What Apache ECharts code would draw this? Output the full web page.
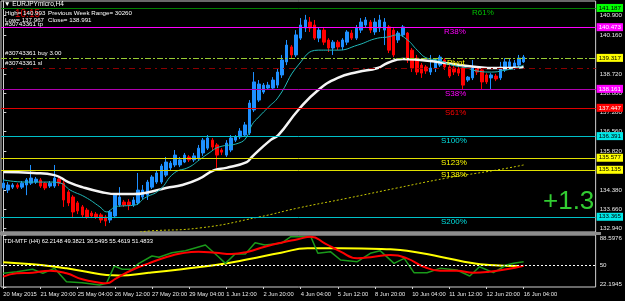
<!DOCTYPE html>
<html>
<head>
<meta charset="utf-8">
<script src="https://cdn.jsdelivr.net/npm/echarts@6/dist/echarts.min.js"></script>
<style>
  html, body { margin: 0; padding: 0; background: #000; }
  #main { width: 625px; height: 301px; }
</style>
</head>
<body>
<div id="main"></div>
<script>
// NOTE - Data (EURJPYmicro H4)

const tickLabels = ['20 May 2015', '21 May 20:00', '25 May 04:00', '26 May 12:00', '27 May 20:00',
  '29 May 04:00', '1 Jun 12:00', '2 Jun 20:00', '4 Jun 04:00', '5 Jun 12:00', '8 Jun 20:00',
  '10 Jun 04:00', '11 Jun 12:00', '12 Jun 20:00', '16 Jun 04:00'];

// [open, close, low, high]
const candles = [
  [134.45,134.63,134.37,134.75],[134.37,134.56,134.26,134.67],[134.48,134.56,134.41,134.63],[134.56,134.48,134.41,134.63],
  [134.48,134.63,134.41,134.71],[134.56,134.75,134.18,134.82],[134.63,134.82,134.56,135.31],[134.67,134.78,134.60,134.86],
  [134.75,134.52,134.45,134.82],[134.63,134.45,134.37,134.67],[134.52,134.63,134.45,134.71],[134.52,134.82,134.45,135.31],
  [134.78,134.63,134.52,134.86],[134.63,134.00,133.74,134.71],[134.30,133.89,133.77,134.37],[134.11,133.55,133.32,134.18],
  [133.89,133.59,133.47,133.96],[133.74,133.44,133.36,133.81],[133.62,133.36,133.29,133.70],[133.51,133.40,133.32,133.59],
  [133.47,133.36,133.29,133.55],[133.44,133.25,133.14,133.51],[133.36,133.21,133.02,133.44],[133.25,133.55,133.14,133.62],
  [133.40,134.18,133.32,134.26],[133.81,134.11,133.74,134.48],[133.92,133.81,133.74,134.00],[133.92,133.81,133.62,134.03],
  [133.81,134.00,133.74,134.11],[133.89,134.37,133.81,135.01],[134.11,134.37,134.03,134.56],[134.18,134.67,134.00,134.75],
  [134.48,134.86,134.41,134.93],[134.67,135.01,134.60,135.12],[134.67,135.27,134.60,135.35],[134.93,135.42,134.86,135.61],
  [135.20,135.38,135.12,135.46],[135.31,135.68,135.23,135.87],[135.31,135.50,135.23,135.61],[135.42,135.68,135.38,135.76],
  [135.61,135.50,135.42,135.68],[135.50,135.65,135.42,135.76],[135.57,135.94,135.50,136.06],[135.76,136.24,135.65,136.32],
  [135.94,136.32,135.87,136.43],[136.24,135.98,135.87,136.32],[136.06,135.68,135.20,136.13],[135.87,135.79,135.68,135.94],
  [135.68,136.13,135.61,136.24],[135.87,136.32,135.79,136.43],[136.24,136.36,136.17,136.43],[136.36,136.58,136.28,136.69],
  [136.43,136.81,136.36,136.92],[136.51,137.63,136.43,137.74],[137.37,138.42,137.29,138.79],[137.74,138.34,137.67,138.49],
  [138.04,138.30,137.97,138.38],[138.19,138.30,138.12,138.42],[138.19,138.49,138.12,138.60],[138.30,138.79,138.19,138.94],
  [138.68,139.24,138.57,139.43],[139.17,139.80,139.05,139.99],[139.73,139.43,139.31,139.80],[139.43,140.18,139.35,140.36],
  [140.06,140.55,139.99,140.81],[140.44,140.74,140.29,140.93],[140.66,140.44,140.29,140.85],[140.55,140.06,139.99,140.74],
  [140.06,140.36,139.91,140.44],[140.36,139.91,139.80,140.44],[139.99,139.69,139.54,140.06],[139.69,139.91,139.43,139.99],
  [139.91,139.73,139.61,139.99],[139.73,139.99,139.61,140.06],[139.91,140.29,139.80,140.36],[140.25,140.06,139.99,140.36],
  [140.06,140.44,139.99,140.55],[140.36,140.66,140.25,140.81],[140.55,140.74,140.44,140.85],[140.66,140.36,140.25,140.74],
  [140.29,140.66,140.18,140.81],[140.44,140.74,140.29,140.93],[140.36,140.66,139.80,140.81],[140.48,139.61,139.50,140.55],
  [140.36,139.43,139.35,140.44],[139.99,140.25,139.88,140.33],[140.18,140.48,140.10,140.55],[140.25,139.24,139.13,140.29],
  [139.61,138.94,138.79,139.69],[139.31,138.79,138.68,139.43],[139.05,138.75,138.57,139.13],[138.98,138.83,138.72,139.05],
  [138.79,138.94,138.68,139.43],[138.94,139.24,138.79,139.31],[139.05,139.35,138.98,139.43],[139.24,138.98,138.87,139.31],
  [138.98,138.64,138.57,139.09],[138.94,138.79,138.68,139.02],[138.90,138.75,138.64,139.02],[138.94,138.30,138.12,139.02],
  [138.49,138.60,138.42,138.64],[138.57,138.94,138.49,139.24],[138.94,138.79,138.68,138.98],[138.87,138.42,138.12,138.94],
  [138.68,138.42,138.34,138.75],[138.57,138.68,138.12,138.75],[138.64,138.53,138.45,138.72],[138.57,138.98,138.49,139.17],
  [138.87,139.17,138.79,139.31],[138.98,139.17,138.90,139.31],[138.98,139.13,138.87,139.24],[139.05,139.31,138.98,139.43],
  [139.17,139.35,139.13,139.43]
];

// [bar index, price] read along each moving average
const fastMA = [[0,134.75],[4.8,134.67],[10.2,134.67],[12.3,134.63],[14.4,134.37],[17.6,134.11],[20.8,133.74],
  [22.3,133.55],[24,133.74],[25.1,133.77],[28.3,133.81],[30.4,134.07],[33.6,134.37],[36.8,135.01],[40,135.23],
  [42.2,135.50],[44.3,135.76],[46.4,135.98],[50.7,136.13],[52.4,136.36],[53.5,136.81],[55,137.11],[57.1,137.48],
  [59.2,137.85],[63.5,139.05],[67.8,139.61],[72,139.61],[76.3,139.80],[80.6,140.06],[82.7,140.10],[84.8,140.18],
  [87,139.99],[89.1,139.61],[91.2,139.31],[93.4,139.24],[96.6,139.05],[99.8,138.94],[101.9,138.83],[105.1,138.79],
  [108.3,138.87],[110.4,138.94],[112,139.05]];
const slowMA = [[0,135.05],[6.5,135.01],[11,134.93],[14,134.67],[17,134.48],[21,134.30],[24.5,134.22],[28,134.22],
  [31.5,134.30],[35,134.45],[38.5,134.56],[42,134.78],[45.4,135.12],[48,135.20],[52.4,135.42],[53.5,135.61],
  [57.5,136.24],[59.2,136.43],[63.5,137.37],[67.8,138.12],[72,138.57],[76.3,138.79],[80.6,138.94],[82.7,139.13],
  [86,139.28],[89.7,139.24],[93.4,139.17],[98.3,139.05],[101.9,138.98],[105.5,138.94],[109,138.94],[112,138.98]];
const longMA = [[29.4,132.80],[31.5,132.84],[42.2,132.95],[55,133.36],[63.5,133.70],[74.2,134.07],[84.8,134.45],
  [95.5,134.82],[106.2,135.12],[112,135.31]];

// TDI-MTF lines
const rsiLine = [[0,39.7],[2.9,41.7],[6.3,44.8],[8.5,39.7],[11,46],[13.6,29],[17,27.7],[20.7,24.8],[22.2,26.9],
  [23.9,49],[25.6,44.8],[27.7,44.8],[29.2,52.4],[32,61.8],[33.5,60.1],[36.3,66],[39.2,68.6],[43.5,75.8],[46.3,60.9],
  [47.8,52.4],[49.9,64.4],[52.1,64.4],[54.2,78.8],[56.3,75.8],[59.8,78],[61.9,86.4],[66.2,86.4],[67.7,65.2],
  [70.4,67.3],[72.6,56.7],[76.2,54.5],[79,65.2],[81.1,68.6],[84.1,52.4],[86.3,58.8],[88.4,40.5],[91.2,40.5],
  [94,46],[97.6,43.9],[100.4,36.2],[102.5,48.1],[105.5,40.5],[108.3,50.3],[109.8,52.4],[112,54.5]];
const signalLine = [[0,35.4],[2.9,39.7],[6.3,40.5],[10,43],[13.6,39.7],[17,32],[20.7,27.7],[22.2,26.9],[24.3,33.3],
  [27.7,43.9],[31.3,52.4],[35,60.1],[38.4,65.2],[42,67.3],[45.7,66],[49.1,64.4],[52.7,67.3],[56.3,73.7],[59.8,78.8],
  [63.4,83.1],[66.2,86.4],[69.2,78],[72.6,67.3],[76.2,58.8],[79.8,60.9],[83.3,63],[86.9,58.8],[90.5,48.1],[94,43],
  [97.6,43],[101.2,40.5],[104.6,41.7],[108.3,44.8],[112,49.4]];
const baseLine = [[0,53.7],[6.3,51.2],[10,49],[13.6,46],[17.9,41.7],[22.2,37.5],[24.9,37],[31.3,40.5],[38.4,45],
  [45.7,50.3],[52.7,57.5],[59.8,66],[65.5,71.6],[72.6,71.6],[83.3,70.3],[86.9,68.6],[94,60.9],[101.2,52.4],
  [104.6,50.3],[111,49]];

const levelPrices = [141.187, 140.473, 139.317, 138.95, 138.161, 137.447, 136.391, 135.577, 135.135, 133.365];
const fibNames = ['R61%', 'R38%', 'Pivot', '', 'S38%', 'S61%', 'S100%', 'S123%', 'S138%', 'S200%'];
const priceTicks = [140.900, 140.160, 138.720, 138.000, 137.280, 136.560, 135.820, 134.380, 133.660, 132.940];
const tdiTicks = [22.1945, 50, 88.5976];

// NOTE - Styles

const levelStyles = [
  { line: '#008000', type: 'solid', box: '#00ff00', text: '#000', fib: '#00c000', fx: 472 },
  { line: '#ff00ff', type: 'solid', box: '#ff00ff', text: '#fff', fib: '#ff00ff', fx: 444 },
  { line: '#9acd32', type: [6, 2, 2, 2], box: '#ffff00', text: '#000', fib: '#ffff00', fx: 447 },
  { line: '#8b0000', type: [6, 4, 2, 4], box: null },
  { line: '#b000b0', type: 'solid', box: '#ff00ff', text: '#fff', fib: '#ff00ff', fx: 445 },
  { line: '#e00000', type: 'solid', box: '#ff0000', text: '#fff', fib: '#ff0000', fx: 445 },
  { line: '#00c0c8', type: 'solid', box: '#00e8e8', text: '#000', fib: '#00e0e0', fx: 441 },
  { line: '#e0e000', type: 'solid', box: '#ffff00', text: '#000', fib: '#ffff00', fx: 441 },
  { line: '#e0e000', type: 'solid', box: '#ffff00', text: '#000', fib: '#ffff00', fx: 441 },
  { line: '#00c0c8', type: 'solid', box: '#00e8e8', text: '#000', fib: '#00e0e0', fx: 441 }
];

const FONT = 'Liberation Sans';
const slots = [];
for (let i = 0; i < 128; i++) slots.push(i % 8 === 0 && i / 8 < tickLabels.length ? tickLabels[i / 8] : '');
const showTick = (i) => i % 8 === 0 && i <= 112;

// NOTE - eCharts Init

var myChart = echarts.init(document.getElementById('main'));

var option = {
  backgroundColor: '#000',
  animation: false,
  grid: [
    { left: 1, top: 1, width: 599, height: 231, show: true, borderColor: '#d0d0d0', borderWidth: 1 },
    { left: 1, top: 235, width: 599, height: 52, show: true, borderColor: '#d0d0d0', borderWidth: 1 }
  ],
  xAxis: [
    { type: 'category', gridIndex: 0, data: slots, boundaryGap: true, show: false },
    { type: 'value', gridIndex: 0, min: -0.5, max: 127.5, show: false },
    {
      type: 'category', gridIndex: 1, data: slots, boundaryGap: true,
      axisLine: { show: false },
      axisTick: { show: true, length: 2, lineStyle: { color: '#d0d0d0' }, interval: showTick, alignWithLabel: true },
      axisLabel: { color: '#e8e8e8', fontSize: 5.8, fontFamily: FONT, align: 'left', margin: 4,
        interval: showTick, showMinLabel: true, hideOverlap: false },
      splitLine: { show: false }
    },
    { type: 'value', gridIndex: 1, min: -0.5, max: 127.5, show: false }
  ],
  yAxis: [
    {
      type: 'value', gridIndex: 0, position: 'right', min: 132.80, max: 141.45, scale: true,
      axisLine: { show: true, lineStyle: { color: '#d0d0d0' } },
      axisTick: { show: true, length: 3, customValues: priceTicks, lineStyle: { color: '#d0d0d0' } },
      axisLabel: { customValues: priceTicks, color: '#e8e8e8', fontSize: 6.2, fontFamily: FONT, margin: 4,
        formatter: (v) => v.toFixed(3) },
      splitLine: { show: false }
    },
    {
      type: 'value', gridIndex: 1, position: 'right', min: 22.1945, max: 88.5976,
      axisLine: { show: true, lineStyle: { color: '#d0d0d0' } },
      axisTick: { show: true, length: 3, customValues: tdiTicks, lineStyle: { color: '#d0d0d0' } },
      axisLabel: { customValues: tdiTicks, color: '#e8e8e8', fontSize: 6.2, fontFamily: FONT, margin: 4,
        verticalAlignMinLabel: 'bottom', verticalAlignMaxLabel: 'top',
        formatter: (v) => String(v) },
      splitLine: { show: false }
    }
  ],
  series: [
    {
      name: 'EURJPYmicro', type: 'candlestick', xAxisIndex: 0, yAxisIndex: 0,
      data: candles, barWidth: 3,
      itemStyle: { color: '#1e90ff', color0: '#ff0000', borderColor: '#1e90ff', borderColor0: '#ff0000', borderWidth: 1 },
      markLine: {
        symbol: 'none', silent: true, animation: false,
        data: levelPrices.map((p, i) => ({
          yAxis: p,
          lineStyle: { color: levelStyles[i].line, type: levelStyles[i].type, width: 1 },
          label: levelStyles[i].box ? {
            show: true, position: 'end', distance: 1, formatter: p.toFixed(3),
            backgroundColor: levelStyles[i].box, color: levelStyles[i].text,
            fontSize: 6.2, fontFamily: FONT, padding: [1, 2, 1, 2]
          } : { show: false }
        }))
      }
    },
    { name: 'longMA', type: 'line', xAxisIndex: 1, yAxisIndex: 0, data: longMA, showSymbol: false, smooth: true,
      lineStyle: { color: '#c8c800', width: 1, type: [2, 2] } },
    { name: 'slowMA', type: 'line', xAxisIndex: 1, yAxisIndex: 0, data: slowMA, showSymbol: false, smooth: true,
      lineStyle: { color: '#f4f4f4', width: 2.5 } },
    { name: 'fastMA', type: 'line', xAxisIndex: 1, yAxisIndex: 0, data: fastMA, showSymbol: false, smooth: true,
      lineStyle: { color: '#20b8b8', width: 1 } },
    { name: 'base', type: 'line', xAxisIndex: 3, yAxisIndex: 1, data: baseLine, showSymbol: false, smooth: true,
      lineStyle: { color: '#ffff00', width: 2 },
      markLine: { symbol: 'none', silent: true, label: { show: false },
        lineStyle: { color: '#ffffff', type: [2, 2], width: 1 }, data: [{ yAxis: 50 }] } },
    { name: 'rsi', type: 'line', xAxisIndex: 3, yAxisIndex: 1, data: rsiLine, showSymbol: false,
      lineStyle: { color: '#1a9a1a', width: 1.5 } },
    { name: 'signal', type: 'line', xAxisIndex: 3, yAxisIndex: 1, data: signalLine, showSymbol: false, smooth: true,
      lineStyle: { color: '#ff0000', width: 2 } }
  ]
};

myChart.setOption(option);

// NOTE - Texts (legend, trade labels, fib names)

const txt = (x, y, text, color, size) => ({
  type: 'text', x: x, y: y, silent: true, z: 50,
  style: { text: text, fill: color, fontSize: size, fontFamily: FONT }
});

const graphics = [
  { type: 'rect', shape: { x: 0, y: 232, width: 601, height: 3 }, style: { fill: '#8c8c8c' }, z: 40 },
  txt(4, 1, '\u25BC EURJPYmicro,H4', '#ffffff', 6.5),
  txt(15, 9, '10:15', '#e00000', 10),
  txt(5, 10, 'High= 140.993', '#ffffff', 6.2),
  txt(48, 10, 'Previous Week Range= 30260', '#ffffff', 6.2),
  txt(5, 17, 'Low= 137.967', '#ffffff', 6.2),
  txt(48, 17, 'Close= 138.991', '#ffffff', 6.2),
  txt(5, 21, '#30743361 tp', '#ffffff', 6.2),
  txt(5, 50, '#30743361 buy 3.00', '#ffffff', 6.2),
  txt(5, 60, '#30743361 sl', '#ffffff', 6.2),
  txt(543, 189, '+1.3', '#32cd32', 26),
  txt(4, 238, 'TDI-MTF (H4) 62.2148 49.3821 36.5495 55.4619 51.4833', '#ffffff', 5.8)
];

levelPrices.forEach((p, i) => {
  if (!fibNames[i]) return;
  const y = myChart.convertToPixel({ yAxisIndex: 0 }, p);
  graphics.push(txt(levelStyles[i].fx, y + 1, fibNames[i], levelStyles[i].fib, 8));
});

myChart.setOption({ graphic: graphics });
</script>
</body>
</html>
